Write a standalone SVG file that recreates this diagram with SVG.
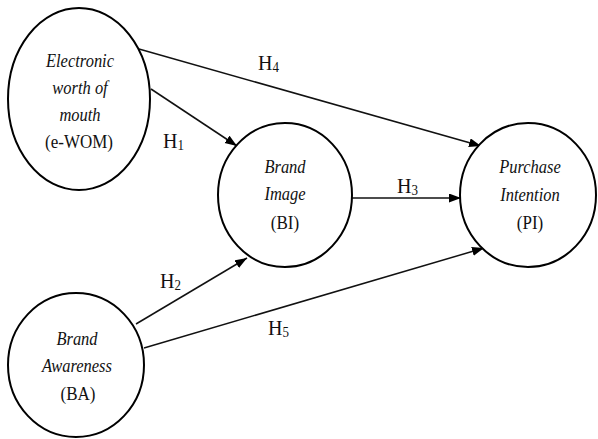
<svg xmlns="http://www.w3.org/2000/svg" width="598" height="439" viewBox="0 0 598 439">
<style>
.node{fill:#fff;stroke:#000;stroke-width:2}
.t{font-family:"Liberation Serif","Times New Roman",serif;font-size:17px;fill:#111;text-anchor:middle}
.i{font-style:italic;font-size:16.5px}
.h{font-family:"Liberation Serif","Times New Roman",serif;font-size:20px;fill:#111}
.sub{font-size:13px}
.edge{stroke:#111;stroke-width:1.5;fill:none;marker-end:url(#arr)}
</style>
<defs>
<marker id="arr" markerUnits="userSpaceOnUse" markerWidth="13" markerHeight="10" refX="12" refY="4.5" orient="auto">
<path d="M0,0 L12,4.5 L0,9 z" fill="#000"/>
</marker>
</defs>
<rect width="598" height="439" fill="#fff"/>
<g id="connectors">
<line class="edge" x1="139" y1="49" x2="481" y2="146"/>
<line class="edge" x1="151" y1="89" x2="237" y2="146"/>
<line class="edge" x1="351" y1="198" x2="461" y2="198"/>
<line class="edge" x1="136" y1="324" x2="247" y2="258"/>
<line class="edge" x1="144" y1="348" x2="484" y2="248"/>
<text class="h" transform="translate(258,70) scale(1,1.1)">H<tspan class="sub" dy="2">4</tspan></text>
<text class="h" transform="translate(163,148) scale(1,1.1)">H<tspan class="sub" dy="2">1</tspan></text>
<text class="h" transform="translate(397,193) scale(1,1.1)">H<tspan class="sub" dy="2">3</tspan></text>
<text class="h" transform="translate(160,288) scale(1,1.1)">H<tspan class="sub" dy="2">2</tspan></text>
<text class="h" transform="translate(268,335) scale(1,1.1)">H<tspan class="sub" dy="2">5</tspan></text>
</g>
<g id="ewom">
<ellipse class="node" cx="79" cy="99" rx="71" ry="91"/>
<text class="t i" transform="translate(80,67) scale(1,1.12)">Electronic</text>
<text class="t i" transform="translate(80,94) scale(1,1.12)">worth of</text>
<text class="t i" transform="translate(80,121) scale(1,1.12)">mouth</text>
<text class="t" transform="translate(79,148) scale(1,1.08)">(e-WOM)</text>
</g>
<g id="bi">
<ellipse class="node" cx="285" cy="195" rx="67" ry="72"/>
<text class="t i" transform="translate(285,173) scale(1,1.12)">Brand</text>
<text class="t i" transform="translate(285,200) scale(1,1.12)">Image</text>
<text class="t" transform="translate(285,229) scale(1,1.08)">(BI)</text>
</g>
<g id="pi">
<ellipse class="node" cx="528" cy="195" rx="68" ry="72"/>
<text class="t i" transform="translate(530,173) scale(1,1.12)">Purchase</text>
<text class="t i" transform="translate(530,201) scale(1,1.12)">Intention</text>
<text class="t" transform="translate(530,229) scale(1,1.08)">(PI)</text>
</g>
<g id="ba">
<ellipse class="node" cx="76" cy="365" rx="68" ry="72"/>
<text class="t i" transform="translate(77,345) scale(1,1.12)">Brand</text>
<text class="t i" transform="translate(77,372) scale(1,1.12)">Awareness</text>
<text class="t" transform="translate(78,400) scale(1,1.08)">(BA)</text>
</g>
</svg>
